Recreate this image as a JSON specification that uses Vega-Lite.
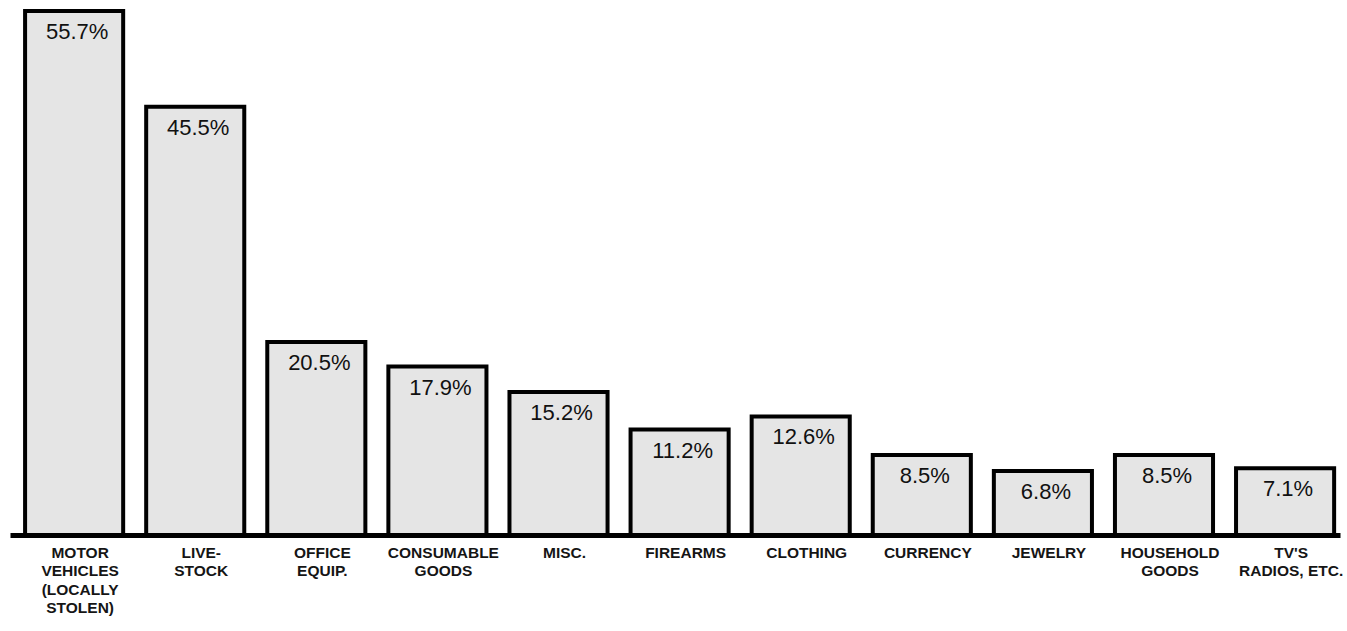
{
  "$schema": "https://vega.github.io/schema/vega-lite/v6.json",
  "width": 1330,
  "height": 526,
  "autosize": "none",
  "padding": {"left": 10, "top": 9, "right": 7, "bottom": 96},
  "background": "white",
  "config": {"view": {"stroke": null}, "font": "Liberation Sans"},
  "data": {
    "values": [
      {"category": "MOTOR|VEHICLES|(LOCALLY|STOLEN)", "pct": 55.7, "label": "55.7%"},
      {"category": "LIVE-|STOCK", "pct": 45.5, "label": "45.5%"},
      {"category": "OFFICE|EQUIP.", "pct": 20.5, "label": "20.5%"},
      {"category": "CONSUMABLE|GOODS", "pct": 17.9, "label": "17.9%"},
      {"category": "MISC.", "pct": 15.2, "label": "15.2%"},
      {"category": "FIREARMS", "pct": 11.2, "label": "11.2%"},
      {"category": "CLOTHING", "pct": 12.6, "label": "12.6%"},
      {"category": "CURRENCY", "pct": 8.5, "label": "8.5%"},
      {"category": "JEWELRY", "pct": 6.8, "label": "6.8%"},
      {"category": "HOUSEHOLD|GOODS", "pct": 8.5, "label": "8.5%"},
      {"category": "TV'S|RADIOS, ETC.", "pct": 7.1, "label": "7.1%"}
    ]
  },
  "encoding": {
    "x": {
      "field": "category",
      "type": "nominal",
      "sort": null,
      "scale": {"paddingInner": 0.19, "paddingOuter": 0.0865, "align": 0.72},
      "axis": {
        "title": null,
        "labelAngle": 0,
        "labelExpr": "split(datum.label, '|')",
        "labelFont": "Liberation Sans",
        "labelFontSize": 15.5,
        "labelFontWeight": "bold",
        "labelColor": "#151515",
        "labelLineHeight": 18.5,
        "labelPadding": 10,
        "labelOffset": 6,
        "labelBaseline": "top",
        "labelLimit": 200,
        "ticks": false,
        "domainColor": "black",
        "domainWidth": 5,
        "grid": false
      }
    },
    "y": {
      "field": "pct",
      "type": "quantitative",
      "scale": {"domain": [0, 55.9], "nice": false},
      "axis": null
    }
  },
  "layer": [
    {
      "mark": {"type": "bar", "fill": "#e5e5e5", "stroke": "black", "strokeWidth": 4, "cornerRadius": 0}
    },
    {
      "mark": {"type": "text", "baseline": "top", "dy": 11, "dx": 3, "fontSize": 22, "font": "Liberation Sans", "color": "#111111"},
      "encoding": {"text": {"field": "label"}}
    }
  ]
}
